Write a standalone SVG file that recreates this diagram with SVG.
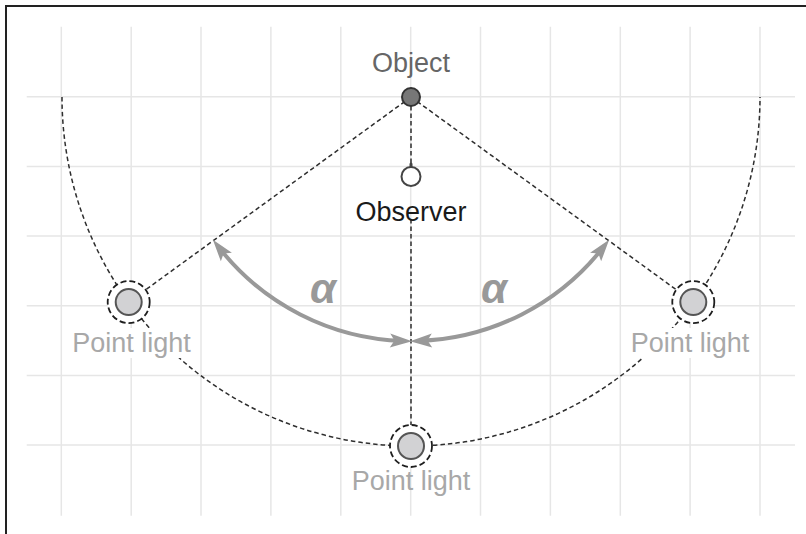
<svg xmlns="http://www.w3.org/2000/svg" width="806" height="534" viewBox="0 0 806 534">
<style>
.grid{stroke:#e6e6e6;stroke-width:1.5;fill:none}
.dash{stroke:#2e2e2e;stroke-width:1.5;stroke-dasharray:4.5 3;fill:none}
.ring{stroke:#1e1e1e;stroke-width:1.8;stroke-dasharray:6 3;fill:#fff}
.bulb{fill:#d2d2d4;stroke:#555;stroke-width:2}
.alpha{stroke:#999;stroke-width:4;fill:none}
.lbl{font-family:"Liberation Sans",Arial,sans-serif;font-size:27px;text-anchor:middle}
.light{fill:#a8a8a8}
.bg{fill:#fff}
.greek{font-family:"Liberation Sans",Arial,sans-serif;font-size:42px;font-weight:bold;font-style:italic;fill:#999;text-anchor:middle}
</style>
<defs>
<marker id="ah" markerUnits="userSpaceOnUse" markerWidth="40" markerHeight="40" viewBox="-20 -20 40 40" refX="0" refY="0" orient="auto-start-reverse">
<path d="M-13,-7 L9,0 L-13,7 L-8.5,0 Z" fill="#999"/>
</marker>
</defs>
<rect width="806" height="534" fill="#fff"/>
<path d="M6,534 L6,6 L806,6" fill="none" stroke="#222" stroke-width="2"/>
<g id="grid">
<path class="grid" d="M61.3,26.7V515.7M131.2,26.7V515.7M201,26.7V515.7M270.9,26.7V515.7M340.8,26.7V515.7M410.7,26.7V515.7M480.5,26.7V515.7M550.4,26.7V515.7M620.3,26.7V515.7M690.1,26.7V515.7M760,26.7V515.7"/>
<path class="grid" d="M26.7,96.7H795M26.7,166.4H795M26.7,236H795M26.7,305.7H795M26.7,375.4H795M26.7,445H795"/>
</g>
<g id="connectors">
<path class="dash" d="M62,97 A349,349 0 0 0 760,97"/>
<path class="dash" d="M411,97 L128.7,302.1"/>
<path class="dash" d="M411,97 L693.3,302.1"/>
<path class="dash" d="M411,106 L411,166"/>
<path d="M411,164 L411,167.5" stroke="#444" stroke-width="3" stroke-linecap="round"/>
<path class="dash" d="M411,219 L411,425"/>
<path class="alpha" d="M218.4,246.8 A244,244 0 0 0 403,340.9" marker-start="url(#ah)" marker-end="url(#ah)"/>
<path class="alpha" d="M603.6,246.8 A244,244 0 0 1 419,340.9" marker-start="url(#ah)" marker-end="url(#ah)"/>
</g>
<g id="object">
<circle cx="411" cy="97" r="9" fill="#777" stroke="#333" stroke-width="2"/>
<text class="lbl" x="411" y="72" fill="#666">Object</text>
</g>
<g id="observer">
<circle cx="411" cy="176.5" r="9.5" fill="#fff" stroke="#444" stroke-width="2"/>
<text class="lbl" x="411" y="221" fill="#1a1a1a">Observer</text>
</g>
<g id="light-left">
<circle class="ring" cx="128.7" cy="302.1" r="21"/>
<circle class="bulb" cx="128.7" cy="302.1" r="13"/>
<rect class="bg" x="70" y="328" width="124" height="30"/>
<text class="lbl light" x="131.5" y="352">Point light</text>
</g>
<g id="light-right">
<circle class="ring" cx="693.3" cy="302.1" r="21"/>
<circle class="bulb" cx="693.3" cy="302.1" r="13"/>
<rect class="bg" x="628" y="328" width="124" height="30"/>
<text class="lbl light" x="690" y="352">Point light</text>
</g>
<g id="light-bottom">
<circle class="ring" cx="411" cy="446" r="21"/>
<circle class="bulb" cx="411" cy="446" r="13"/>
<text class="lbl light" x="411" y="490">Point light</text>
</g>
<g id="angles">
<text class="greek" x="323" y="303">α</text>
<text class="greek" x="494" y="303">α</text>
</g>
</svg>
